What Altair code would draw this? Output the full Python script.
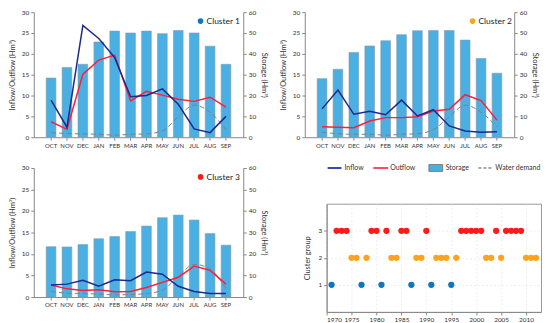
import altair as alt
import pandas as pd

FONT = "Lato"
months = ["OCT", "NOV", "DEC", "JAN", "FEB", "MAR", "APR", "MAY", "JUN", "JUL", "AUG", "SEP"]

c1_storage = [28.4, 33.5, 35.0, 45.7, 50.9, 50.0, 50.9, 49.7, 51.2, 50.0, 43.7, 35.0]
c1_inflow = [8.9, 2.4, 26.8, 23.7, 19.1, 9.7, 10.0, 11.6, 7.9, 2.0, 1.1, 5.0]
c1_outflow = [3.7, 1.9, 15.1, 18.5, 19.7, 8.7, 11.0, 10.1, 9.1, 8.6, 9.6, 7.2]
c1_demand = [1.1, 0.9, 0.8, 0.7, 0.5, 0.7, 0.8, 1.5, 4.9, 7.7, 6.0, 1.8]

c2_storage = [28.1, 32.6, 40.7, 43.8, 46.3, 49.2, 51.1, 51.2, 51.2, 46.6, 37.8, 30.7]
c2_inflow = [6.8, 11.3, 5.5, 6.2, 5.4, 8.9, 5.1, 6.6, 2.7, 1.5, 1.2, 1.3]
c2_outflow = [2.5, 2.4, 2.3, 3.9, 4.7, 4.7, 4.9, 6.3, 6.7, 10.2, 8.8, 4.1]
c2_demand = [1.2, 0.85, 0.7, 0.7, 0.5, 0.7, 0.85, 1.8, 4.9, 7.7, 6.0, 2.5]

c3_storage = [23.4, 23.3, 24.4, 27.1, 28.1, 30.5, 33.0, 36.9, 38.1, 35.8, 29.5, 24.1]
c3_inflow = [2.8, 3.0, 3.9, 2.5, 4.0, 3.8, 5.8, 5.3, 2.5, 1.3, 0.8, 0.8]
c3_outflow = [2.8, 1.9, 1.5, 1.7, 1.2, 1.3, 2.2, 3.4, 4.6, 7.2, 6.2, 3.0]
c3_demand = [1.3, 0.9, 0.8, 0.7, 0.5, 0.6, 0.8, 1.6, 4.8, 7.6, 6.5, 2.0]

years_c1 = [1971, 1977, 1981, 1987, 1991, 1995]
years_c2 = [1975, 1976, 1978, 1983, 1984, 1988, 1989, 1992, 1993, 1994, 1996,
            2002, 2003, 2005, 2010, 2011, 2012]
years_c3 = [1972, 1973, 1974, 1979, 1980, 1982, 1985, 1986, 1990, 1997, 1998,
            1999, 2000, 2001, 2004, 2006, 2007, 2008, 2009]

legend_names = ["Inflow", "Outflow", "Storage", "Water demand"]

BAR = "#4aafe2"
INFLOW = "#1c2a8c"
OUTFLOW = "#ff1e3c"
DEMAND = "#808080"
CL_COLORS = ["#0b77c2", "#ffa31a", "#ff1a1a"]


def panel(storage, inflow, outflow, demand, name, color, width, height, lx, spacer=False):
    df = pd.DataFrame({"month": months, "storage": storage, "inflow": inflow,
                       "outflow": outflow, "demand": demand})
    base = alt.Chart(df)
    x = alt.X("month:N", sort=months,
              scale=alt.Scale(paddingInner=0.39, paddingOuter=0.78),
              axis=alt.Axis(title=None, labelAngle=0, labelFontSize=6))
    lax = alt.Axis(orient="left", values=list(range(0, 31, 5)),
                   title="Inflow/Outflow (Hm³)", grid=False, titlePadding=5)
    lsc = alt.Scale(domain=[0, 30])
    bars = base.mark_bar(fill=BAR, stroke="#8d9aa3", strokeWidth=0.6).encode(
        x=x,
        y=alt.Y("storage:Q", scale=alt.Scale(domain=[0, 60]),
                axis=alt.Axis(orient="right", values=list(range(0, 61, 10)),
                              title="Storage (Hm³)", grid=False, titlePadding=4)),
    )
    dem = base.mark_line(color=DEMAND, strokeDash=[5, 3], strokeWidth=1,
                         interpolate="monotone").encode(
        x=x, y=alt.Y("demand:Q", scale=lsc, axis=lax))
    outl = base.mark_line(color=OUTFLOW, strokeWidth=1.5).encode(
        x=x, y=alt.Y("outflow:Q", scale=lsc, axis=lax))
    inl = base.mark_line(color=INFLOW, strokeWidth=1.5).encode(
        x=x, y=alt.Y("inflow:Q", scale=lsc, axis=lax))
    lab = pd.DataFrame({"label": [name]})
    dot = alt.Chart(lab).mark_circle(size=32, color=color, opacity=1).encode(
        x=alt.value(lx), y=alt.value(9))
    txt = alt.Chart(lab).mark_text(align="left", baseline="middle", fontSize=8.5,
                                   font=FONT, color="#222").encode(
        x=alt.value(lx + 6), y=alt.value(9), text="label:N")
    layers = [bars, alt.layer(dem, outl, inl), dot, txt]
    if spacer:
        # invisible spacer that lifts the panel's top bound (keeps the legend row above it)
        layers.append(alt.Chart(lab).mark_text(fontSize=7, opacity=0, text=".").encode(
            x=alt.value(0), y=alt.value(-4)))
    return alt.layer(*layers).resolve_scale(y="independent").properties(
        width=width, height=height)


p1 = panel(c1_storage, c1_inflow, c1_outflow, c1_demand, "Cluster 1", CL_COLORS[0], 211, 126, 168)
p2 = panel(c2_storage, c2_inflow, c2_outflow, c2_demand, "Cluster 2", CL_COLORS[1], 211, 126, 169)
p3 = panel(c3_storage, c3_inflow, c3_outflow, c3_demand, "Cluster 3", CL_COLORS[2], 211, 130, 168,
           spacer=True)

# legend strip
leg_df = pd.DataFrame({"name": legend_names, "slot": [0, 1, 2, 3]})
lx = alt.X("slot:Q", scale=alt.Scale(domain=[0, 1, 2, 3], range=[1, 47, 103, 153]), axis=None)
ly = alt.value(0)
leg_base = alt.Chart(leg_df)
leg_in = leg_base.transform_filter("datum.name == 'Inflow'").mark_point(
    shape="stroke", size=196, xOffset=7, strokeWidth=2, filled=False, opacity=1,
    color="#3d4ca8").encode(x=lx, y=ly)
leg_out = leg_base.transform_filter("datum.name == 'Outflow'").mark_point(
    shape="stroke", size=225, xOffset=7.5, strokeWidth=2, filled=False, opacity=1,
    color="#ff4a62").encode(x=lx, y=ly)
leg_dem = leg_base.transform_filter("datum.name == 'Water demand'").mark_point(
    shape="stroke", size=196, xOffset=7, strokeWidth=1, strokeDash=[3, 2], color="#555",
    filled=False, opacity=1).encode(x=lx, y=ly)
leg_sto = leg_base.transform_filter("datum.name == 'Storage'").mark_point(
    shape="M-1,-0.5H1V0.5H-1Z", size=196, xOffset=7, fill=BAR, stroke="#666",
    strokeWidth=0.7, filled=True, opacity=1).encode(x=lx, y=ly)
leg_txt = leg_base.mark_text(align="left", baseline="middle", dx=17, fontSize=7,
                             font=FONT, color="#333").encode(x=lx, y=ly, text="name:N")
legend = alt.layer(leg_in, leg_out, leg_dem, leg_sto, leg_txt).properties(width=200, height=4)

# cluster-group scatter
sc_df = pd.DataFrame({
    "year": years_c1 + years_c2 + years_c3,
    "group": [1] * len(years_c1) + [2] * len(years_c2) + [3] * len(years_c3),
})
sx = alt.X("year:Q", scale=alt.Scale(domain=[1970, 2013], nice=False, zero=False),
           axis=alt.Axis(values=list(range(1970, 2011, 5)), format="d", title=None,
                         grid=True, gridColor="#e6e6e6", gridDash=[2, 2], gridWidth=0.7))
sy = alt.Y("group:Q", scale=alt.Scale(domain=[0, 4], nice=False),
           axis=alt.Axis(values=[1, 2, 3], format="d", title="Cluster group", titlePadding=6,
                         grid=True, gridColor="#e6e6e6", gridDash=[2, 2], gridWidth=0.7))
sc_base = alt.Chart(sc_df)
sc_layers = [
    sc_base.transform_filter(f"datum.group == {g}").mark_circle(size=40, opacity=1, color=c)
    .encode(x=sx, y=sy)
    for g, c in zip([1, 2, 3], CL_COLORS)
]
scatter = alt.layer(*sc_layers).properties(
    width=216, height=109, view=alt.ViewBackground(stroke="#999", strokeWidth=1))

row1 = alt.hconcat(p1, p2, spacing=11)
right = alt.vconcat(legend, scatter, spacing=30)
row2 = alt.hconcat(p3, right, spacing=35)
chart = alt.vconcat(row1, row2, spacing=12).properties(
    padding=0, background="white"
).configure_view(stroke=None).configure_axis(
    labelFont=FONT, labelFontSize=6.5, labelColor="#333", labelPadding=2,
    titleFont=FONT, titleFontSize=7.5, titleFontWeight="normal", titleColor="#333",
    domainColor="#888", tickColor="#888", tickSize=3,
)

chart.save("out.html", embed_options={"renderer": "svg", "actions": False})
